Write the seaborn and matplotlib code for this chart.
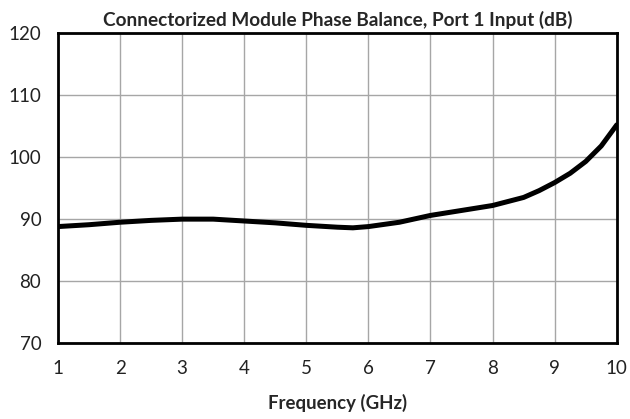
import matplotlib
matplotlib.use("Agg")
import matplotlib.pyplot as plt
import seaborn as sns
import pandas as pd

# Phase balance
freq_ghz = [1.0, 1.5, 2.0, 2.5, 3.0, 3.5, 4.0, 4.5, 5.0, 5.5, 5.75, 6.0, 6.5, 7.0,
            7.5, 8.0, 8.5, 8.75, 9.0, 9.25, 9.5, 9.75, 10.0]
balance_db = [88.8, 89.1, 89.5, 89.8, 90.0, 90.0, 89.7, 89.4, 89.0, 88.7, 88.6, 88.8,
              89.5, 90.6, 91.4, 92.2, 93.5, 94.6, 95.9, 97.4, 99.3, 101.8, 105.2]

x_ticks = list(range(1, 11))
y_ticks = [70, 80, 90, 100, 110, 120]

df = pd.DataFrame({"Frequency": freq_ghz, "Balance": balance_db})

sns.set_style("white")
plt.rcParams["font.family"] = ["Lato", "DejaVu Sans"]

fig = plt.figure(figsize=(6.3, 4.19), dpi=100)
ax = fig.add_axes([0.092, 0.181, 0.887, 0.74])

sns.lineplot(data=df, x="Frequency", y="Balance", ax=ax, color="black", linewidth=3.6)

ax.set_xlim(1, 10)
ax.set_ylim(70, 120)
ax.set_xticks(x_ticks)
ax.set_yticks(y_ticks)
ax.grid(True, color="#a6a6a6", linewidth=1)
ax.tick_params(axis="both", length=0, labelsize=13.5, colors="#222222")
ax.tick_params(axis="x", pad=12)
ax.tick_params(axis="y", pad=12)
for s in ax.spines.values():
    s.set_visible(True)
    s.set_color("black")
    s.set_linewidth(2)

ax.set_title("Connectorized Module Phase Balance, Port 1 Input (dB)",
             fontsize=13.7, fontweight="bold", pad=5)
ax.set_xlabel("Frequency (GHz)", fontsize=13.4, fontweight="bold", labelpad=12)
ax.set_ylabel("")

fig.savefig("out.png", dpi=100)
